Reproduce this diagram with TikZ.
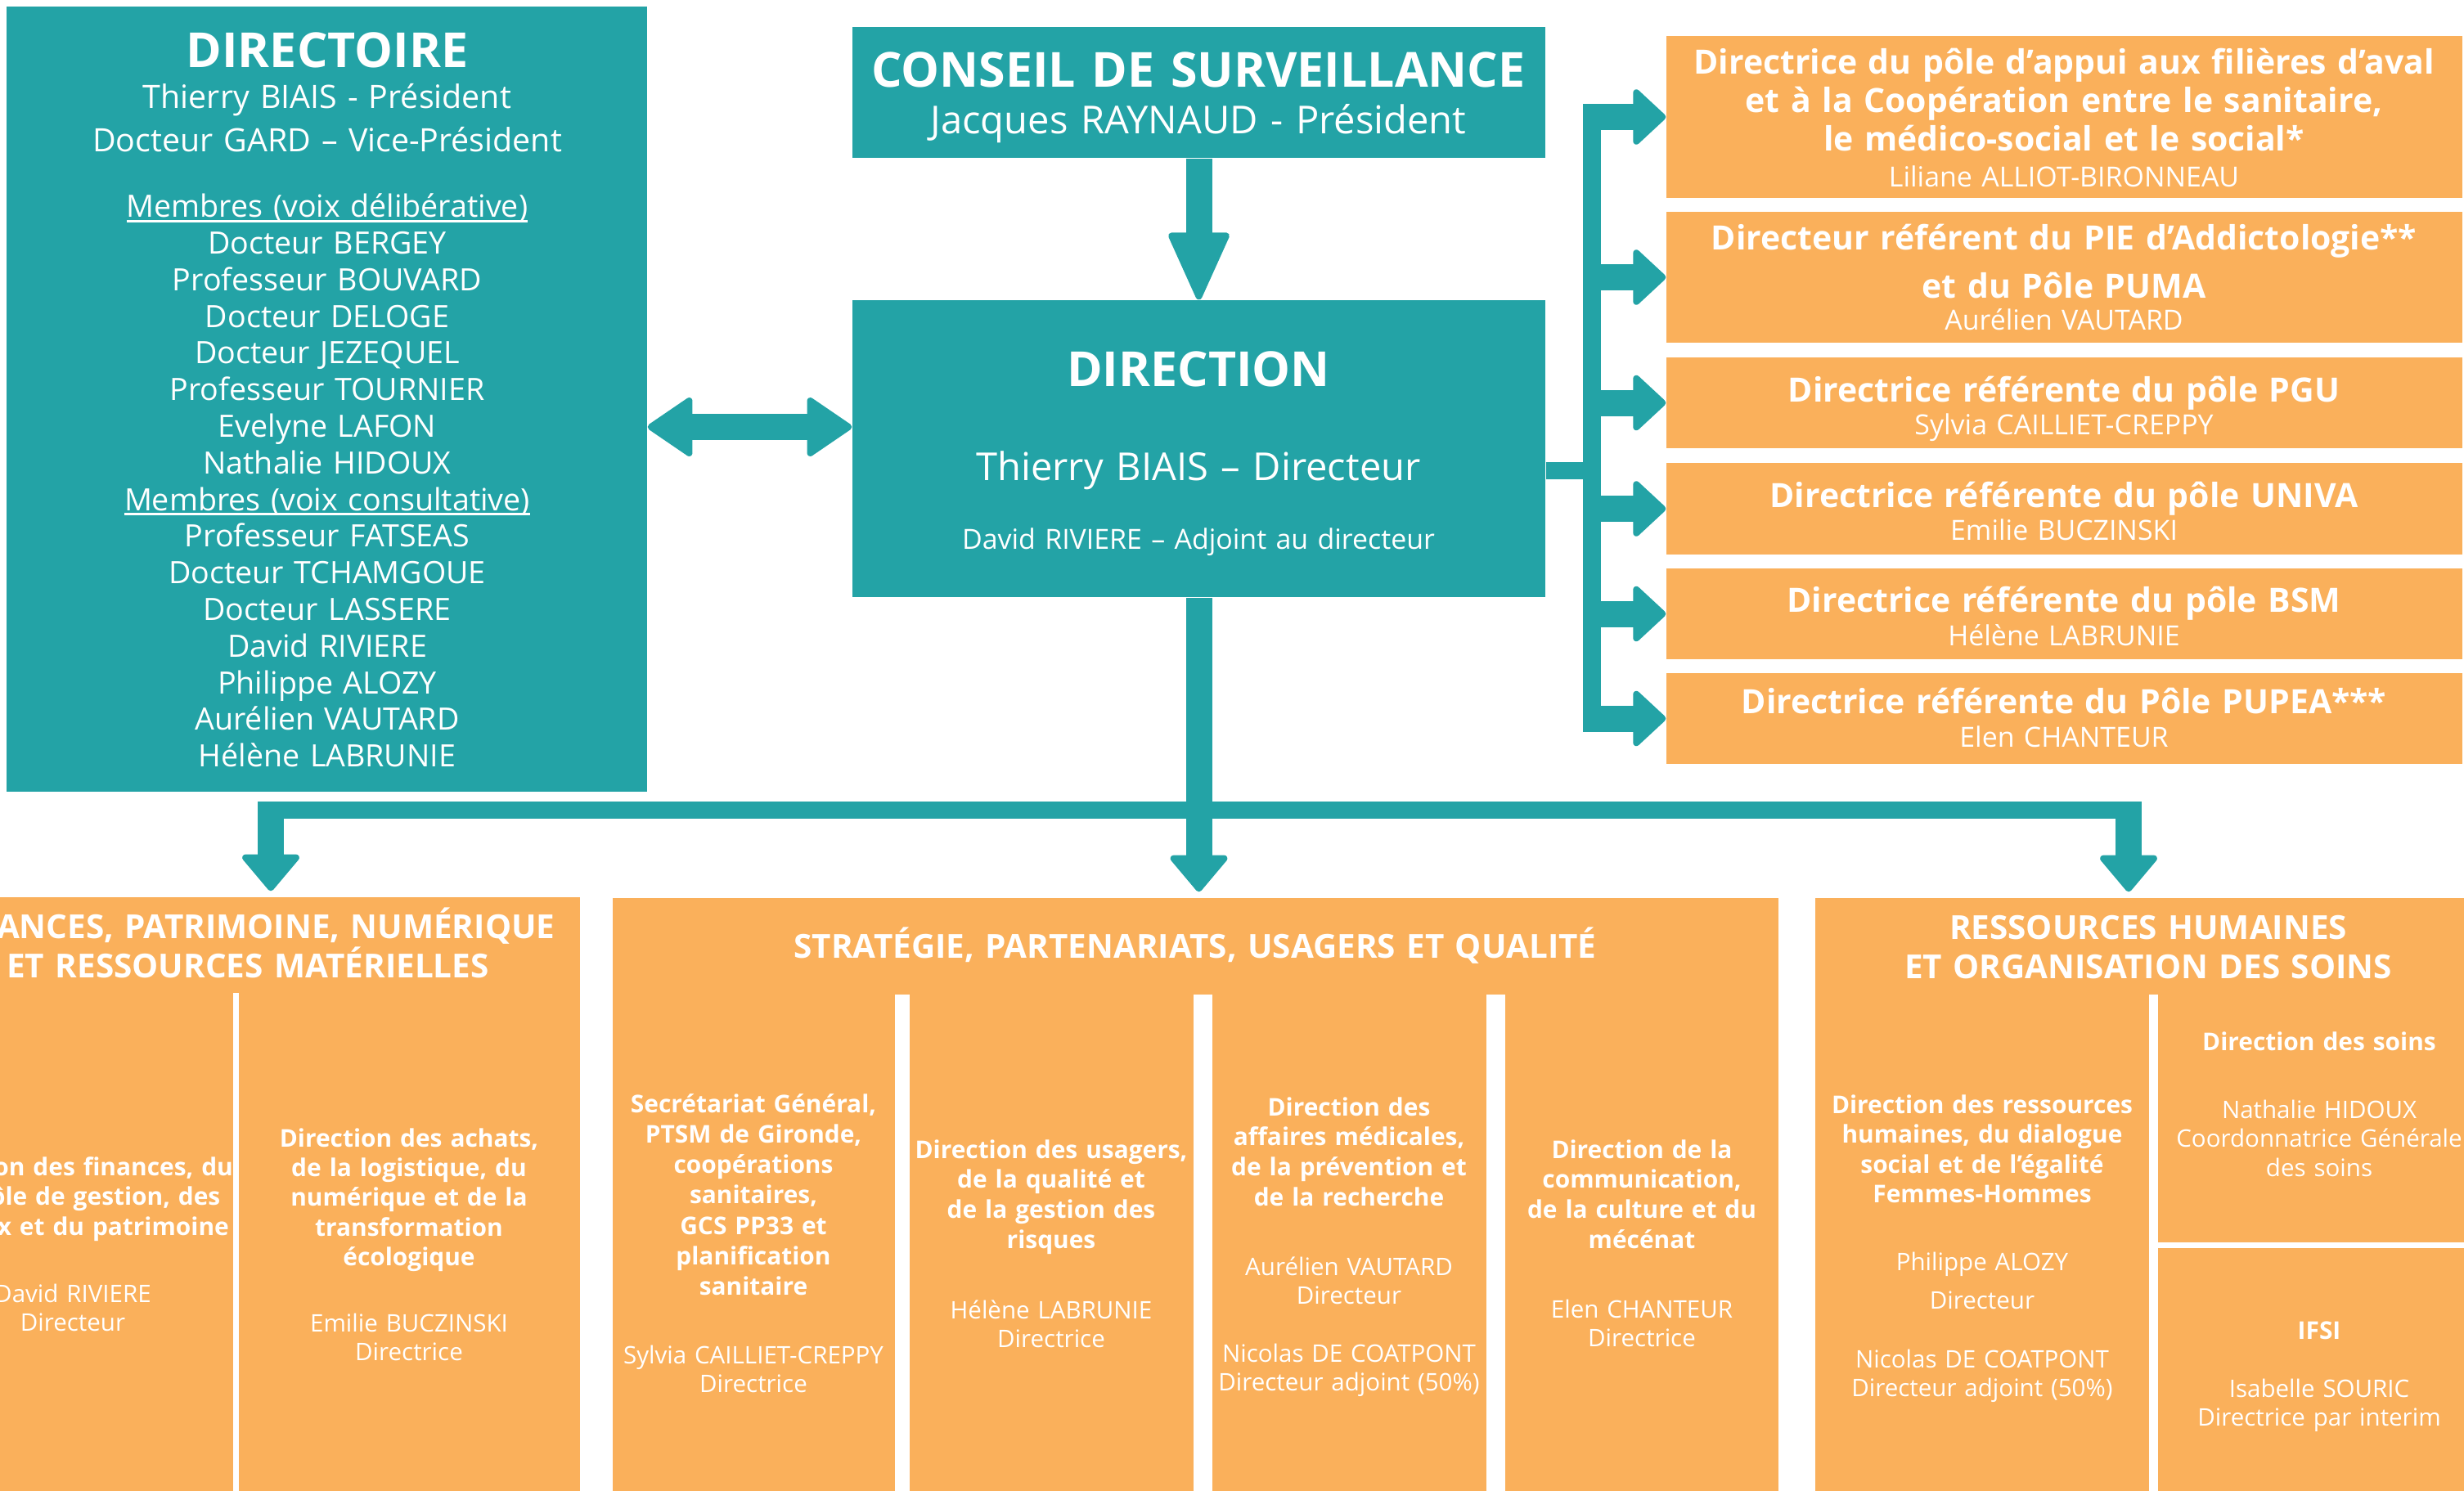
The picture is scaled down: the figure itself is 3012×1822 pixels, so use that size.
\documentclass[tikz,border=0pt]{standalone}
\usepackage{fontspec}
\setmainfont{Open Sans}
\usetikzlibrary{arrows.meta,fit}
\definecolor{chteal}{RGB}{35,163,166}
\definecolor{chorange}{RGB}{250,176,91}
\newcommand{\memberhead}[1]{\leavevmode\setbox0=\hbox{#1}\rlap{\rule[-0.16em]{\wd0}{0.075em}}\box0}

\begin{document}
\begin{tikzpicture}[x=0.1mm,y=-0.1mm]
\tikzset{tealbox/.style = {inner sep=0pt, fill=chteal},
	orangebox/.style = {inner sep=0pt, fill=chorange},
	gap/.style = {fill=white},
	shaft/.style = {draw=chteal, line width=3.2mm},
	bus/.style = {draw=chteal, line width=2.2mm},
	rtip/.style = {-{Triangle[length=4.2mm,width=7.6mm,round,line width=0.8mm]}},
	dtip/.style = {-{Triangle[length=4.7mm,width=7.7mm,round,line width=0.8mm]}, shorten >=0.7mm},
	txt/.style = {text=white, inner sep=0pt, anchor=base, align=center, text width=140mm},
	bigtitle/.style = {txt, font=\bfseries\fontsize{16.8pt}{20pt}\selectfont},
	headline/.style = {txt, font=\fontsize{11.2pt}{15.2pt}\selectfont},
	member/.style = {txt, font=\fontsize{10.7pt}{12.75pt}\selectfont},
	subtitle/.style = {txt, font=\fontsize{13.4pt}{16pt}\selectfont},
	smallline/.style = {txt, font=\fontsize{9.65pt}{12pt}\selectfont},
	polehead/.style = {txt, font=\bfseries\fontsize{11.65pt}{#1}\selectfont},
	polehead/.default = 13.5pt,
	sectitle/.style = {txt, font=\bfseries\fontsize{11.5pt}{13.7pt}\selectfont},
	unitname/.style = {txt, font=\bfseries\fontsize{8.5pt}{#1}\selectfont},
	unitname/.default = 10.5pt,
	person/.style = {txt, font=\fontsize{8.4pt}{#1}\selectfont},
	person/.default = 10pt}

\useasboundingbox (0,0) rectangle (3012,1822);
\clip (0,0) rectangle (3012,1822);

% boxes
\node[tealbox, fit={(8,8) (791,968)}] (directoire) {};
\node[tealbox, fit={(1042,33) (1889,193)}] (conseil) {};
\node[tealbox, fit={(1042,367) (1889,730)}] (direction) {};
\node[orangebox, fit={(2037,44) (3010,242)}] (pole1) {};
\node[orangebox, fit={(2037,259) (3010,419)}] (pole2) {};
\node[orangebox, fit={(2037,437) (3010,548)}] (pole3) {};
\node[orangebox, fit={(2037,566) (3010,678)}] (pole4) {};
\node[orangebox, fit={(2037,695) (3010,806)}] (pole5) {};
\node[orangebox, fit={(2037,823) (3010,934)}] (pole6) {};
\node[orangebox, fit={(-107,1097) (709,1830)}] (finances) {};
\node[orangebox, fit={(749,1098) (2174,1830)}] (strategie) {};
\node[orangebox, fit={(2219,1098) (3032,1830)}] (rh) {};

% arrows
\draw[shaft, -{Triangle[length=8.8mm,width=7.7mm,round,line width=0.8mm]}] (conseil.south) -- (direction.north);
\draw[shaft, {Triangle[length=5.8mm,width=7.7mm,round,line width=0.8mm]}-{Triangle[length=5.8mm,width=7.7mm,round,line width=0.8mm]}] (directoire.east |- 0,522) -- (direction.west |- 0,522);

\coordinate (busTop) at (1946,127);
\coordinate (busBot) at (1946,894.5);
\draw[bus] (busTop) -- (busBot);
\draw[bus, line width=2.1mm] (direction.east |- 0,575) -- (busTop |- 0,575);
\foreach \p in {pole1,pole2,pole3,pole4,pole5,pole6}
	\draw[shaft, rtip] (busTop |- \p.west) -- (\p.west);

\coordinate (busL) at (331,990.5);
\coordinate (busR) at (2602,990.5);
\draw[shaft, dtip] (direction.south) -- (direction.south |- strategie.north);
\draw[bus, line width=2.1mm] ([xshift=-1.6mm]busL) -- ([xshift=1.6mm]busR);
\draw[shaft, dtip] ([yshift=1.05mm]busL) -- (busL |- finances.north);
\draw[shaft, dtip] ([yshift=1.05mm]busR) -- (busR |- rh.north);

% white gaps between the columns
\fill[gap] (285,1214) rectangle (292,1830);
\fill[gap] (1094,1216) rectangle (1112,1830);
\fill[gap] (1459,1216) rectangle (1482,1830);
\fill[gap] (1817,1216) rectangle (1840,1830);
\fill[gap] (2627,1216) rectangle (2638,1830);
\fill[gap] (2638,1519) rectangle (3040,1526);

% directoire
\node[bigtitle] (directoire-title) at (400,82.5) {DIRECTOIRE};
\node[headline] (directoire-head) at (400,132) {Thierry BIAIS - Président\\Docteur GARD – Vice-Président};
\node[member] (directoire-list) at (400,265.6) {\memberhead{Membres (voix délibérative)}\\Docteur BERGEY\\Professeur BOUVARD\\Docteur DELOGE\\Docteur JEZEQUEL\\Professeur TOURNIER\\Evelyne LAFON\\Nathalie HIDOUX\\\memberhead{Membres (voix consultative)}\\Professeur FATSEAS\\Docteur TCHAMGOUE\\Docteur LASSERE\\David RIVIERE\\Philippe ALOZY\\Aurélien VAUTARD\\Hélène LABRUNIE};

% conseil et direction
\node[bigtitle] (conseil-title) at (1465,106) {CONSEIL DE SURVEILLANCE};
\node[subtitle] (conseil-pres) at (1465,163) {Jacques RAYNAUD - Président};
\node[bigtitle] (direction-title) at (1465,472) {DIRECTION};
\node[subtitle] (direction-dir) at (1465,587) {Thierry BIAIS – Directeur};
\node[smallline] (direction-adj) at (1465,671) {David RIVIERE – Adjoint au directeur};

% poles
\node[polehead] (pole1-head) at (2523,90) {Directrice du pôle d’appui aux filières d’aval\\et à la Coopération entre le sanitaire,\\le médico-social et le social*};
\node[smallline] (pole1-name) at (2523,228) {Liliane ALLIOT-BIRONNEAU};
\node[polehead=16.8pt] (pole2-head) at (2523,305) {Directeur référent du PIE d’Addictologie**\\et du Pôle PUMA};
\node[smallline] (pole2-name) at (2523,403) {Aurélien VAUTARD};
\node[polehead] (pole3-head) at (2523,491) {Directrice référente du pôle PGU};
\node[smallline] (pole3-name) at (2523,531) {Sylvia CAILLIET-CREPPY};
\node[polehead] (pole4-head) at (2523,620) {Directrice référente du pôle UNIVA};
\node[smallline] (pole4-name) at (2523,660) {Emilie BUCZINSKI};
\node[polehead] (pole5-head) at (2523,748) {Directrice référente du pôle BSM};
\node[smallline] (pole5-name) at (2523,789) {Hélène LABRUNIE};
\node[polehead] (pole6-head) at (2523,872) {Directrice référente du Pôle PUPEA***};
\node[smallline] (pole6-name) at (2523,913) {Elen CHANTEUR};

% finances
\node[sectitle] (finances-title) at (303,1147) {FINANCES, PATRIMOINE, NUMÉRIQUE\\ET RESSOURCES MATÉRIELLES};
\node[unitname] (finances-a) at (89,1437) {Direction des finances, du\\contrôle de gestion, des\\travaux et du patrimoine};
\node[person] (finances-a-name) at (89,1592) {David RIVIERE\\Directeur};
\node[unitname=10.3pt] (finances-b) at (500,1402.5) {Direction des achats,\\de la logistique, du\\numérique et de la\\transformation\\écologique};
\node[person] (finances-b-name) at (500,1628) {Emilie BUCZINSKI\\Directrice};

% strategie
\node[sectitle] (strategie-title) at (1461,1171) {STRATÉGIE, PARTENARIATS, USAGERS ET QUALITÉ};
\node[unitname=10.6pt] (strategie-a) at (921,1360) {Secrétariat Général,\\PTSM de Gironde,\\coopérations\\sanitaires,\\GCS PP33 et\\planification\\sanitaire};
\node[person] (strategie-a-name) at (921,1667) {Sylvia CAILLIET-CREPPY\\Directrice};
\node[unitname] (strategie-b) at (1285,1416) {Direction des usagers,\\de la qualité et\\de la gestion des\\risques};
\node[person] (strategie-b-name) at (1285,1612) {Hélène LABRUNIE\\Directrice};
\node[unitname] (strategie-c) at (1649,1364) {Direction des\\affaires médicales,\\de la prévention et\\de la recherche};
\node[person] (strategie-c-name) at (1649,1559) {Aurélien VAUTARD\\Directeur};
\node[person] (strategie-c-adj) at (1649,1665) {Nicolas DE COATPONT\\Directeur adjoint (50\%)};
\node[unitname] (strategie-d) at (2007,1416) {Direction de la\\communication,\\de la culture et du\\mécénat};
\node[person] (strategie-d-name) at (2007,1611.5) {Elen CHANTEUR\\Directrice};

% ressources humaines
\node[sectitle] (rh-title) at (2626,1148) {RESSOURCES HUMAINES\\ET ORGANISATION DES SOINS};
\node[unitname=10.3pt] (rh-a) at (2423,1361.6) {Direction des ressources\\humaines, du dialogue\\social et de l’égalité\\Femmes-Hommes};
\node[person] (rh-a-name) at (2423,1553) {Philippe ALOZY};
\node[person] (rh-a-role) at (2423,1600.6) {Directeur};
\node[person] (rh-a-adj) at (2423,1672.5) {Nicolas DE COATPONT\\Directeur adjoint (50\%)};
\node[unitname] (rh-b) at (2835,1284) {Direction des soins};
\node[person=10.1pt] (rh-b-name) at (2835,1367) {Nathalie HIDOUX\\Coordonnatrice Générale\\des soins};
\node[unitname] (rh-c) at (2835,1637) {IFSI};
\node[person] (rh-c-name) at (2835,1708) {Isabelle SOURIC\\Directrice par interim};
\end{tikzpicture}
\end{document}
